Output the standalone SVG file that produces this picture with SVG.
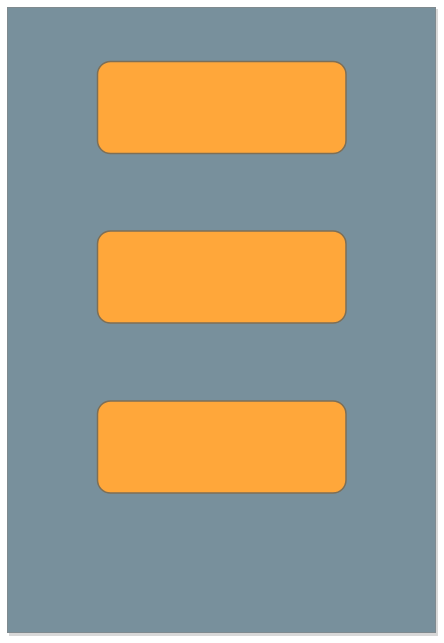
<svg xmlns="http://www.w3.org/2000/svg" width="444" height="643" viewBox="0 0 444 643">
  <defs>
    <style>
      .frame { fill: #78909c; stroke: #7f8a8f; stroke-width: 1; }
      .shadow { fill: #d8d8d8; }
      .box { fill: #ffa73a; stroke: #7d6f57; stroke-width: 1.5; }
    </style>
  </defs>
  <rect width="444" height="643" fill="#ffffff"/>
  <rect class="shadow" x="9" y="9" width="429" height="627"/>
  <g id="frame">
    <rect class="frame" x="7.5" y="7.5" width="428" height="625"/>
  </g>
  <g id="node1">
    <rect class="box" x="97.5" y="61.5" width="248.5" height="92" rx="13" ry="13"/>
  </g>
  <g id="node2">
    <rect class="box" x="97.5" y="231" width="248.5" height="92" rx="13" ry="13"/>
  </g>
  <g id="node3">
    <rect class="box" x="97.5" y="401" width="248.5" height="92" rx="13" ry="13"/>
  </g>
  <g id="connectors"></g>
</svg>
